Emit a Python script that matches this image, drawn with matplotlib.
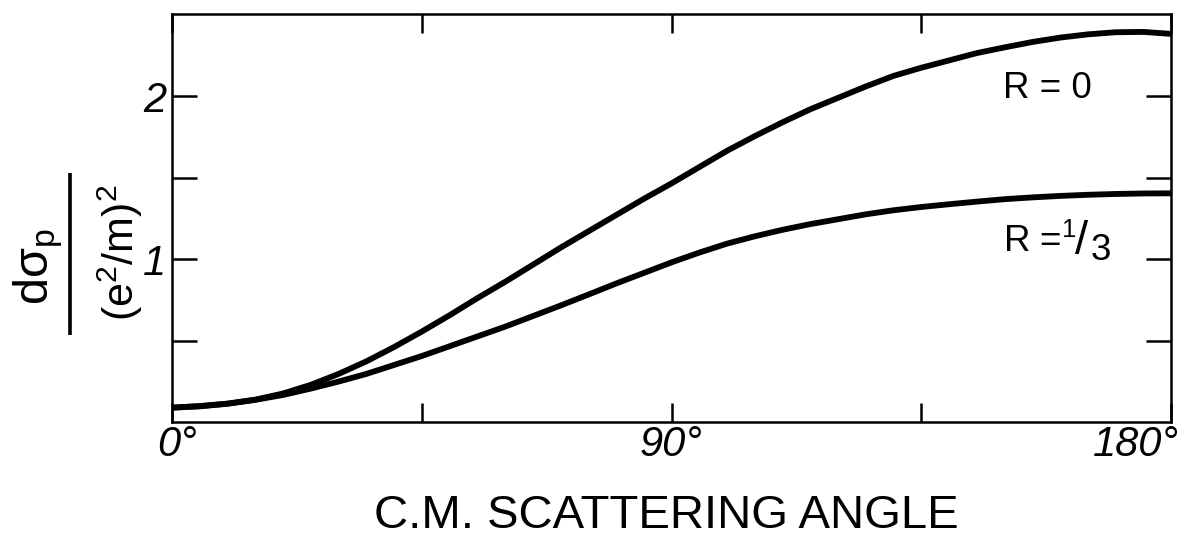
import matplotlib
matplotlib.use("Agg")
import matplotlib.pyplot as plt
from matplotlib.lines import Line2D
from matplotlib.transforms import ScaledTranslation

# ---------------- data ----------------
angles = [0, 5, 10, 15, 20, 25, 30, 35, 40, 45, 50, 55, 60, 65, 70, 75, 80, 85, 90,
          95, 100, 105, 110, 115, 120, 125, 130, 135, 140, 145, 150, 155, 160, 165,
          170, 175, 180]
r0_values = [0.088, 0.098, 0.113, 0.137, 0.175, 0.228, 0.295, 0.372, 0.46, 0.555,
             0.655, 0.76, 0.86, 0.965, 1.07, 1.17, 1.27, 1.37, 1.465,
             1.565, 1.665, 1.755, 1.84, 1.92, 1.99, 2.06, 2.125, 2.175, 2.22,
             2.265, 2.30, 2.333, 2.36, 2.38, 2.393, 2.395, 2.383]
r13_values = [0.088, 0.096, 0.112, 0.136, 0.166, 0.205, 0.248, 0.295, 0.35, 0.405,
              0.465, 0.525, 0.585, 0.65, 0.715, 0.782, 0.85, 0.915, 0.98,
              1.04, 1.095, 1.14, 1.18, 1.215, 1.245, 1.275, 1.30, 1.32, 1.337,
              1.353, 1.368, 1.379, 1.388, 1.395, 1.400, 1.403, 1.404]
xtick_pos = [0, 45, 90, 135, 180]
xtick_labels = ["0°", "", "90°", "", "180°"]
ytick_pos = [0.5, 1.0, 1.5, 2.0]
ytick_labels = ["", "1", "", "2"]

plt.rcParams["font.family"] = ["Liberation Sans", "DejaVu Sans"]
plt.rcParams["mathtext.default"] = "regular"

W, H = 1179, 539
fig = plt.figure(figsize=(W / 100, H / 100), dpi=100)
ax = fig.add_axes([172 / W, 1 - 422 / H, (1171 - 172) / W, (422 - 14) / H])

for y in (r0_values, r13_values):
    ax.plot(angles, y, color="black", lw=4.2, solid_capstyle="butt",
            solid_joinstyle="round")

ax.set_xlim(0, 180)
ax.set_ylim(0, 2.505)

for s in ax.spines.values():
    s.set_linewidth(1.8)

ax.set_xticks(xtick_pos)
ax.set_xticklabels(xtick_labels, fontsize=30, fontstyle="italic")
ax.set_yticks(ytick_pos)
ax.set_yticklabels(ytick_labels, fontsize=30, fontstyle="italic")
ax.tick_params(axis="x", which="both", direction="in", top=True, bottom=True,
               length=14, width=1.8, pad=2)
ax.tick_params(axis="y", which="both", direction="in", left=True, right=True,
               length=18, width=1.8, pad=4)

labs = ax.get_xticklabels()
labs[0].set_transform(labs[0].get_transform() + ScaledTranslation(5 / 100, 0, fig.dpi_scale_trans))
labs[4].set_horizontalalignment("right")
labs[4].set_transform(labs[4].get_transform() + ScaledTranslation(8 / 100, 0, fig.dpi_scale_trans))

# curve labels
lab_fs = 26.5
ax.annotate("R = 0", xy=(149.7, 1.99), xycoords="data", fontsize=lab_fs,
            ha="left", va="baseline")
anchor = (149.7, 1.045)
ax.annotate("R =$^{1}$", xy=anchor, xycoords="data", fontsize=lab_fs,
            ha="left", va="baseline")
ax.annotate("/", xy=anchor, xycoords="data", xytext=(52, -1.5), textcoords="offset points",
            fontsize=34, ha="left", va="baseline")
ax.annotate("3", xy=anchor, xycoords="data", xytext=(63.5, -6), textcoords="offset points",
            fontsize=lab_fs, ha="left", va="baseline")

# y label as a stacked fraction, rotated
fig.text(38 / W, 1 - 267 / H, r"dσ$_{p}$", rotation=90, fontsize=35,
         ha="center", va="center")
fig.text(120 / W, 1 - 253 / H, r"(e$^{2}$/m)$^{2}$", rotation=90, fontsize=31,
         ha="center", va="center")
fig.add_artist(Line2D([70 / W, 70 / W], [1 - 173 / H, 1 - 335 / H], color="black",
                      lw=2.6, transform=fig.transFigure, solid_capstyle="butt"))

# x label
fig.text(666 / W, 1 - 528 / H, "C.M. SCATTERING ANGLE", fontsize=34,
         ha="center", va="baseline")

fig.savefig("out.png", dpi=100)
